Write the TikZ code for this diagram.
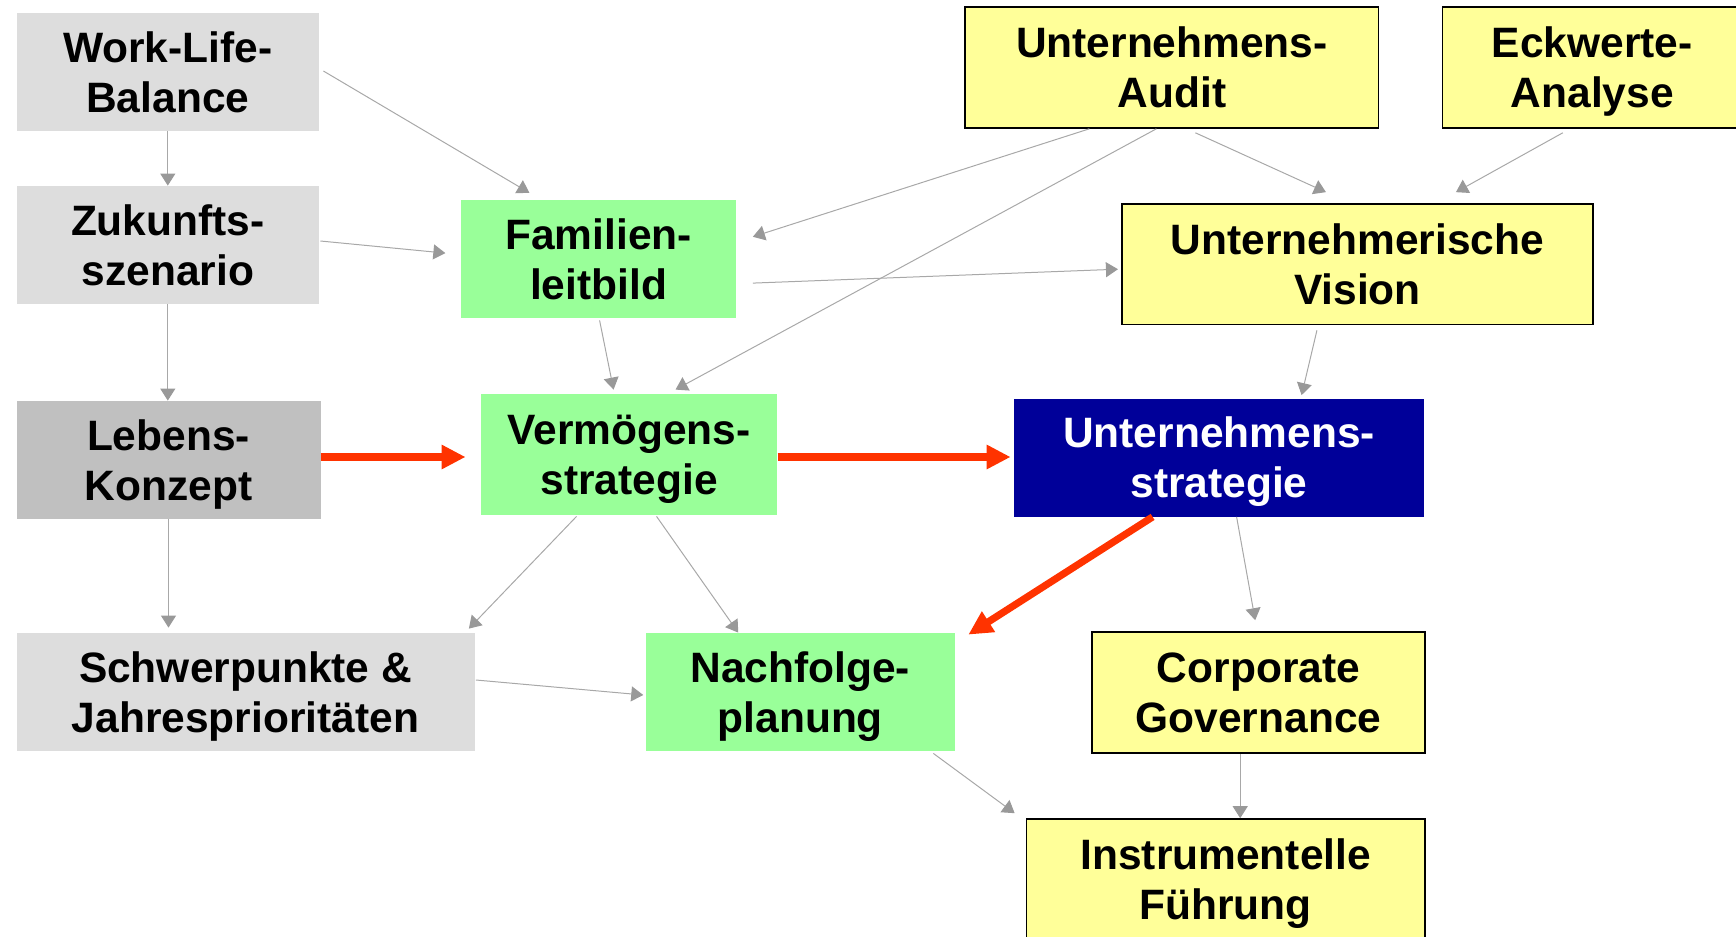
\documentclass[tikz,border=0pt]{standalone}
\usepackage{fontspec}
\setmainfont{Liberation Sans}
\usetikzlibrary{arrows.meta,calc}

\definecolor{boxgray}{HTML}{DDDDDD}
\definecolor{boxdark}{HTML}{C0C0C0}
\definecolor{boxgreen}{HTML}{99FF99}
\definecolor{boxyellow}{HTML}{FFFF99}
\definecolor{boxblue}{HTML}{000099}
\definecolor{flowred}{HTML}{FF3300}
\definecolor{linkgray}{HTML}{A8A8A8}
\definecolor{tipgray}{HTML}{999999}

% line strut so every text line is centred the same way
\newcommand\ls{\rule[-4.9pt]{0pt}{25pt}}

\begin{document}
\begin{tikzpicture}[x=0.5pt,y=-0.5pt,
  box/.style={rectangle, inner sep=0pt, align=center,
    font=\fontsize{21.25}{25}\selectfont\bfseries},
  greybox/.style={box, fill=boxgray},
  darkbox/.style={box, fill=boxdark},
  greenbox/.style={box, fill=boxgreen},
  yellowbox/.style={box, fill=boxyellow, draw=black, line width=0.8pt},
  bluebox/.style={box, fill=boxblue, text=white},
  link/.style={draw=linkgray, line width=0.5pt,
    -{Triangle[length=6pt,width=7.5pt,color=tipgray]}},
  flow/.style={draw=flowred, line width=3.6pt,
    -{Triangle[length=12pt,width=11.5pt]}}]

\useasboundingbox (0,0) rectangle (1736,937);
\clip (0,0) rectangle (1736,937);

% personal side
\node[greybox, minimum width=151.2pt, minimum height=59pt] (wlb) at (167.8,72) {\ls Work-Life-\\\ls Balance};
\node[greybox, minimum width=151.2pt, minimum height=59pt] (zs) at (167.8,245) {\ls Zukunfts-\\\ls szenario};
\node[darkbox, minimum width=152pt, minimum height=59pt] (lk) at (168.5,460) {\ls Lebens-\\\ls Konzept};
\node[greybox, minimum width=229pt, minimum height=59pt] (sj) at (245.5,692) {\ls Schwerpunkte \&\\\ls Jahresprioritäten};

% family side
\node[greenbox, minimum width=137.85pt, minimum height=58.9pt] (fl) at (598.6,259.1) {\ls Familien-\\\ls leitbild};
\node[greenbox, minimum width=148.15pt, minimum height=60.5pt] (vs) at (629.1,454.5) {\ls Vermögens-\\\ls strategie};
\node[greenbox, minimum width=154.65pt, minimum height=59pt] (np) at (800.3,692) {\ls Nachfolge-\\\ls planung};

% company side
\node[yellowbox, minimum width=206.7pt, minimum height=60.5pt] (ua) at (1171.9,67.5) {\ls Unternehmens-\\\ls Audit};
\node[yellowbox, minimum width=149.7pt, minimum height=60.5pt] (ea) at (1592.3,67.5) {\ls Eckwerte-\\\ls Analyse};
\node[yellowbox, minimum width=235.65pt, minimum height=60.25pt] (uv) at (1357.4,264.2) {\ls Unternehmerische\\\ls Vision};
\node[bluebox, minimum width=205pt, minimum height=59pt] (us) at (1219,457.5) {\ls Unternehmens-\\\ls strategie};
\node[yellowbox, minimum width=166.5pt, minimum height=60.5pt] (cg) at (1258.5,692.5) {\ls Corporate\\\ls Governance};
\node[yellowbox, minimum width=199.25pt, minimum height=60pt] (if) at (1225.7,879) {\ls Instrumentelle\\\ls Führung};

% thin links
\draw[link] (wlb.south) -- (zs.north);
\draw[link] ($(wlb.east)+(4,-1)$) -- ($(fl.north west)+(69,-7)$);
\draw[link] ($(zs.east)+(1,-4)$) -- ($(fl.west)+(-15,-6)$);
\draw[link] (zs.south) -- (zs.south |- lk.north);
\draw[link] (lk.south) -- ($(lk.south |- sj.north)+(0,-5)$);
\draw[link] ($(vs.south west)+(96,1)$) -- ($(sj.north east)+(-6,-4)$);
\draw[link] ($(vs.south west)+(176,1)$) -- ($(np.north west)+(93,0)$);
\draw[link] ($(sj.east)+(1,-12)$) -- ($(np.west)+(-2,3)$);
\draw[link] ($(fl.south)+(1,2)$) -- ($(vs.north west)+(133,-4)$);
\draw[link] ($(ua.south west)+(125,0)$) -- ($(fl.north east)+(16,37)$);
\draw[link] ($(ua.south west)+(192,0)$) -- ($(vs.north west)+(195,-4)$);
\draw[link] ($(ua.south west)+(231,4)$) -- ($(uv.north west)+(205,-11)$);
\draw[link] ($(ea.south west)+(121,4)$) -- ($(uv.north west)+(335,-11)$);
\draw[link] ($(fl.east)+(16,24)$) -- ($(uv.west)+(-3,5)$);
\draw[link] ($(uv.south west)+(196,5)$) -- ($(us.north west)+(288,-3)$);
\draw[link] ($(us.south west)+(223,0)$) -- ($(cg.north west)+(164,-11)$);
\coordinate (cgout) at ($(cg.south west)+(149,0)$);
\draw[link] (cgout) -- (cgout |- if.north);
\draw[link] ($(np.south east)+(-22,2)$) -- ($(if.north west)+(-11,-5)$);

% main flow
\draw[flow] ($(lk.east)+(0,-3)$) -- ($(vs.west)+(-15,2.5)$);
\draw[flow] ($(vs.east)+(0,2.5)$) -- ($(us.west)+(-3,-0.5)$);
\draw[flow] ($(us.south west)+(139,0)$) -- ($(np.north east)+(13,2)$);
\end{tikzpicture}
\end{document}
